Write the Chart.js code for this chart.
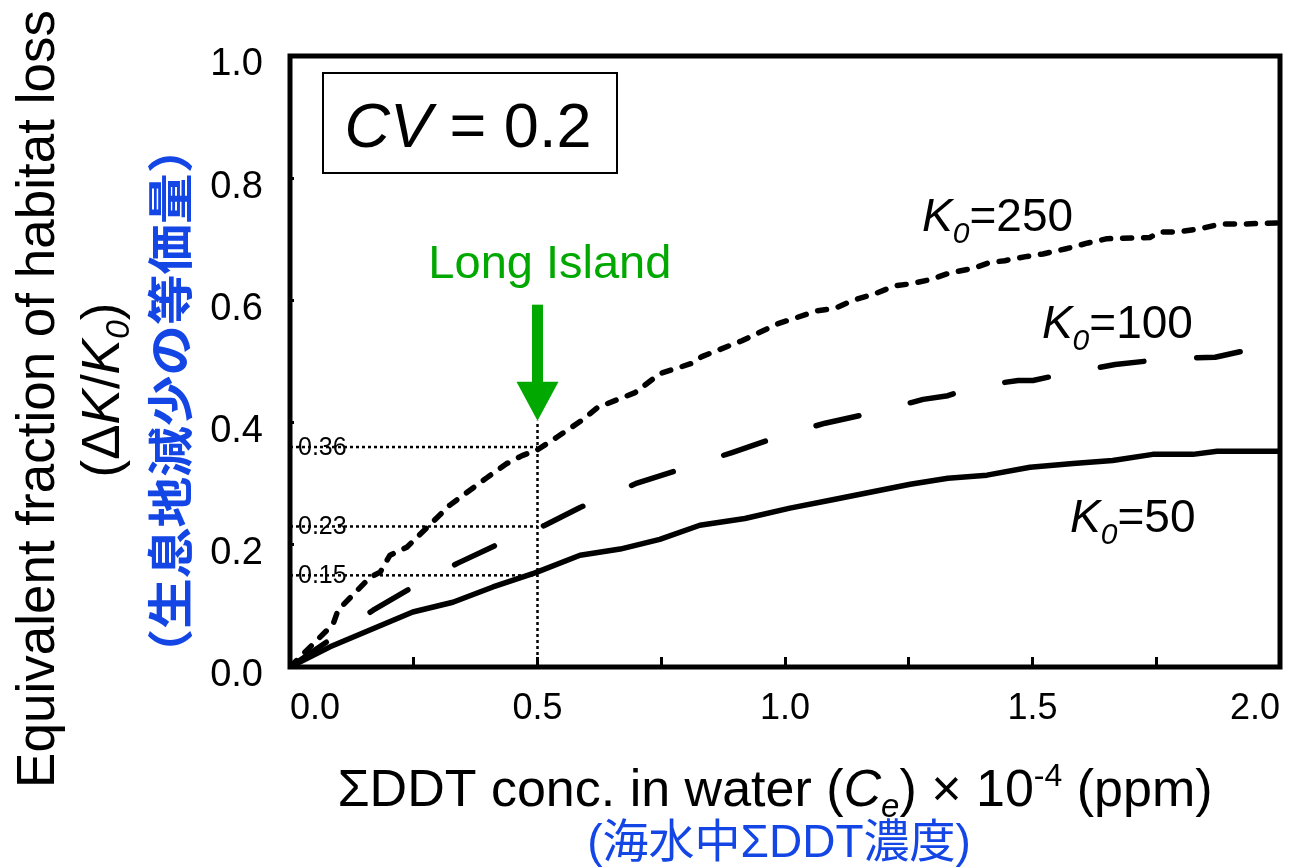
<!DOCTYPE html>
<html>
<head>
<meta charset="utf-8">
<script src="https://cdn.jsdelivr.net/npm/chart.js@4.4.1/dist/chart.umd.min.js"></script>
<style>
  html, body { margin: 0; padding: 0; background: #fff; }
  #wrap { width: 1289px; height: 868px; }
</style>
</head>
<body>
<div id="wrap"><canvas id="chart" width="1289" height="868"></canvas></div>
<script>
// Equivalent habitat loss vs. ΣDDT in water, CV = 0.2, for three K0 values

// K0 = 50 (solid)
const k50X = [0, 0.081, 0.248, 0.329, 0.410, 0.495, 0.586, 0.667, 0.747, 0.828, 0.919, 1.010,
  1.091, 1.172, 1.253, 1.329, 1.408, 1.495, 1.582, 1.662, 1.743, 1.824, 1.873, 2.0];
const k50Y = [0, 0.033, 0.090, 0.106, 0.131, 0.154, 0.183, 0.193, 0.209, 0.232, 0.243, 0.260,
  0.273, 0.286, 0.299, 0.309, 0.314, 0.327, 0.333, 0.338, 0.348, 0.348, 0.353, 0.353];

// K0 = 100 (long dash)
const k100X = [0, 0.168, 0.248, 0.339, 0.428, 0.515, 0.586, 0.701, 0.802, 0.893, 0.994, 1.081,
  1.182, 1.279, 1.329, 1.378, 1.471, 1.501, 1.576, 1.667, 1.778, 1.869, 1.919, 2.0];
const k100Y = [0, 0.093, 0.131, 0.170, 0.204, 0.232, 0.261, 0.301, 0.327, 0.351, 0.379, 0.399,
  0.417, 0.438, 0.444, 0.458, 0.469, 0.469, 0.482, 0.495, 0.505, 0.507, 0.516, 0.516];

// K0 = 250 (short dash)
const k250X = [0, 0.087, 0.097, 0.162, 0.182, 0.202, 0.236, 0.323, 0.398, 0.438, 0.469, 0.499,
  0.539, 0.592, 0.622, 0.697, 0.747, 0.812, 0.832, 0.913, 0.986, 1.024, 1.065, 1.101, 1.137,
  1.182, 1.222, 1.253, 1.293, 1.333, 1.378, 1.414, 1.444, 1.489, 1.521, 1.570, 1.612, 1.651,
  1.737, 1.758, 1.792, 1.838, 1.879, 1.925, 2.0];
const k250Y = [0, 0.070, 0.093, 0.147, 0.155, 0.183, 0.196, 0.265, 0.310, 0.333, 0.346, 0.355,
  0.376, 0.405, 0.425, 0.449, 0.480, 0.497, 0.508, 0.534, 0.562, 0.572, 0.583, 0.587, 0.600,
  0.611, 0.624, 0.627, 0.634, 0.645, 0.652, 0.662, 0.665, 0.672, 0.676, 0.685, 0.694, 0.701,
  0.703, 0.712, 0.712, 0.717, 0.725, 0.725, 0.727];

const longIslandX = 0.5;
const refLevels = [0.36, 0.23, 0.15];
const refLabels = ['0.36', '0.23', '0.15'];

const curveLabels = ['250', '100', '50'];

const SANS = "'Liberation Sans', Arial, 'Noto Sans CJK JP', sans-serif";
const CJK = "'Liberation Sans', 'Noto Sans CJK JP', sans-serif";
const GREEN = '#00A800';
const BLUE = '#1446E6';

const font = (size, style = 'normal', weight = 'normal', fam = SANS) =>
  `${style} ${weight} ${size}px ${fam}`;

const pairs = (xs, ys) => xs.map((x, i) => ({ x, y: ys[i] }));

// Draw a run of differently styled text pieces one after another
function drawRuns(ctx, runs, x, y, align) {
  let total = 0;
  runs.forEach((r) => { ctx.font = r.font; r.w = ctx.measureText(r.text).width; total += r.w; });
  let cx = align === 'center' ? x - total / 2 : x;
  ctx.textAlign = 'left';
  ctx.textBaseline = 'alphabetic';
  runs.forEach((r) => {
    ctx.font = r.font;
    ctx.fillText(r.text, cx, y + (r.dy || 0));
    cx += r.w;
  });
}

function kLabel(num) {
  return [
    { text: 'K', font: font(46, 'italic') },
    { text: '0', font: font(30, 'italic'), dy: 12 },
    { text: '=' + num, font: font(46) },
  ];
}

const overlay = {
  id: 'overlay',
  afterDatasetsDraw(chart) {
    const { ctx, chartArea: a, scales: { x, y } } = chart;
    ctx.save();
    ctx.fillStyle = '#000';

    // plot frame
    ctx.lineWidth = 5;
    ctx.strokeStyle = '#000';
    ctx.strokeRect(a.left, a.top, a.right - a.left, a.bottom - a.top);

    // levels read at Long Island
    ctx.font = font(25);
    ctx.textAlign = 'left';
    ctx.textBaseline = 'middle';
    refLevels.forEach((v, i) => ctx.fillText(refLabels[i], a.left + 8, y.getPixelForValue(v) + 1));

    // CV box
    ctx.lineWidth = 2;
    ctx.strokeRect(a.left + 33, a.top + 17, 294, 100);
    drawRuns(ctx, [
      { text: 'CV', font: font(63, 'italic') },
      { text: ' = 0.2', font: font(63) },
    ], a.left + 178, a.top + 91, 'center');

    // curve labels
    drawRuns(ctx, kLabel(curveLabels[0]), x.getPixelForValue(1.277), y.getPixelForValue(0.714), 'left');
    drawRuns(ctx, kLabel(curveLabels[1]), x.getPixelForValue(1.519), y.getPixelForValue(0.539), 'left');
    drawRuns(ctx, kLabel(curveLabels[2]), x.getPixelForValue(1.576), y.getPixelForValue(0.221), 'left');

    // Long Island marker
    const ax = x.getPixelForValue(longIslandX);
    const tip = y.getPixelForValue(0.403);
    const base = y.getPixelForValue(0.467);
    const top = y.getPixelForValue(0.593);
    ctx.fillStyle = GREEN;
    ctx.fillRect(ax - 5.5, top, 11, base - top + 1);
    ctx.beginPath();
    ctx.moveTo(ax - 21, base);
    ctx.lineTo(ax + 21, base);
    ctx.lineTo(ax, tip);
    ctx.closePath();
    ctx.fill();
    ctx.font = font(47);
    ctx.textAlign = 'center';
    ctx.textBaseline = 'alphabetic';
    ctx.fillText('Long Island', x.getPixelForValue(0.525), y.getPixelForValue(0.637));

    // x-axis title
    ctx.fillStyle = '#000';
    drawRuns(ctx, [
      { text: 'ΣDDT conc. in water (', font: font(52) },
      { text: 'C', font: font(52, 'italic') },
      { text: 'e', font: font(33, 'italic'), dy: 11 },
      { text: ') × 10', font: font(52) },
      { text: '-4', font: font(32), dy: -20 },
      { text: ' (ppm)', font: font(52) },
    ], 775, 806, 'center');
    ctx.fillStyle = BLUE;
    drawRuns(ctx, [{ text: '(海水中ΣDDT濃度)', font: font(46, 'normal', 'normal', CJK) }], 779, 857, 'center');

    // y-axis title, three rotated lines
    ctx.fillStyle = '#000';
    ctx.save();
    ctx.translate(54, 399);
    ctx.rotate(-Math.PI / 2);
    drawRuns(ctx, [{ text: 'Equivalent fraction of habitat loss', font: font(53) }], 0, 0, 'center');
    ctx.restore();

    ctx.save();
    ctx.translate(119, 390);
    ctx.rotate(-Math.PI / 2);
    drawRuns(ctx, [
      { text: '(Δ', font: font(53) },
      { text: 'K', font: font(53, 'italic') },
      { text: '/', font: font(53) },
      { text: 'K', font: font(53, 'italic') },
      { text: '0', font: font(34, 'italic'), dy: 10 },
      { text: ')', font: font(53) },
    ], 0, 0, 'center');
    ctx.restore();

    // blue line: glyphs drawn a little elongated along the line
    ctx.save();
    ctx.fillStyle = BLUE;
    ctx.translate(187, 401);
    ctx.rotate(-Math.PI / 2);
    ctx.scale(1.1, 1);
    drawRuns(ctx, [{ text: '（生息地減少の等価量）', font: font(46, 'normal', 'bold', CJK) }], 0, 0, 'center');
    ctx.restore();

    ctx.restore();
  },
};

const refDash = [3, 3];
const refSets = refLevels.map((v) => ({
  data: [{ x: 0, y: v }, { x: longIslandX, y: v }],
  borderColor: '#000', borderWidth: 2.5, borderDash: refDash, pointRadius: 0,
}));
refSets.push({
  data: [{ x: longIslandX, y: 0 }, { x: longIslandX, y: 0.403 }],
  borderColor: '#000', borderWidth: 2.5, borderDash: refDash, pointRadius: 0,
});

const curveSets = [
  { data: pairs(k50X, k50Y), borderDash: [] },
  { data: pairs(k100X, k100Y), borderDash: [44, 53] },
  { data: pairs(k250X, k250Y), borderDash: [9, 12] },
].map((d) => ({
  ...d,
  borderColor: '#000',
  borderWidth: 5.5,
  borderCapStyle: 'round',
  borderJoinStyle: 'round',
  pointRadius: 0,
  tension: 0,
}));

// keep tick labels from pushing the plot area inward
function noSidePadding(s) {
  s.paddingLeft = 0;
  s.paddingRight = 0;
  s.paddingTop = 0;
  s.paddingBottom = 0;
}

new Chart(document.getElementById('chart'), {
  type: 'line',
  data: { datasets: [...curveSets, ...refSets] },
  options: {
    responsive: false,
    devicePixelRatio: 1,
    animation: false,
    layout: { padding: { top: 56, right: 9, left: 0, bottom: 0 } },
    plugins: { legend: { display: false }, tooltip: { enabled: false } },
    scales: {
      x: {
        type: 'linear',
        min: 0,
        max: 2,
        afterFit(s) { s.height = 201; noSidePadding(s); },
        ticks: {
          stepSize: 0.25,
          autoSkip: false,
          maxRotation: 0,
          align: 'inner',
          padding: 30,
          color: '#000',
          font: { family: SANS, size: 36 },
          callback: (v) => ((v * 2) % 1 === 0 ? v.toFixed(1) : ''),
        },
        grid: { drawOnChartArea: false, drawTicks: true, tickLength: -10, lineWidth: 3, color: '#000' },
        border: { display: false },
      },
      y: {
        type: 'linear',
        min: 0,
        max: 1,
        afterFit(s) { s.width = 290; noSidePadding(s); },
        ticks: {
          stepSize: 0.2,
          padding: 31,
          labelOffset: 9,
          color: '#000',
          font: { family: SANS, size: 38 },
          callback: (v) => v.toFixed(1),
        },
        grid: { drawOnChartArea: false, drawTicks: true, tickLength: -4, lineWidth: 3, color: '#000' },
        border: { display: false },
      },
    },
  },
  plugins: [overlay],
});
</script>
</body>
</html>
